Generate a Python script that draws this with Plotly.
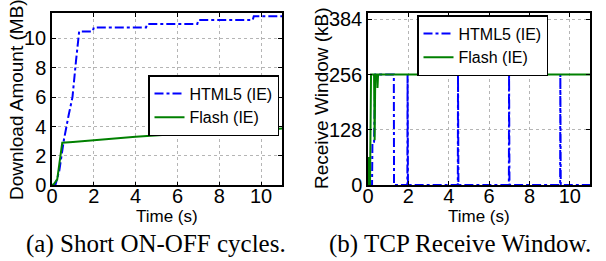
import plotly.graph_objects as go

# ---- data ----
dl_html5_t = [0, 0.16, 0.35, 0.57, 0.8, 0.98, 1.15, 1.25, 1.3, 1.95, 2.0, 4.5, 4.55, 6.95, 7.0, 9.6, 9.65, 11.0]
dl_html5_mb = [0, 0, 1.0, 3.1, 4.8, 6.0, 8.5, 10.0, 10.47, 10.47, 10.74, 10.74, 10.97, 10.97, 11.24, 11.24, 11.5, 11.5]

dl_flash_t = [0, 0.1, 0.25, 0.35, 0.49, 1, 2, 4, 6, 8, 10, 11]
dl_flash_mb = [0, 0.1, 0.4, 1.5, 2.9, 2.95, 3.08, 3.3, 3.49, 3.6, 3.75, 3.87]

rw_html5_t = [0, 0.2, 0.22, 0.3, 0.36, 1.28, 1.29, 1.95, 1.96, 1.98, 4.45, 4.46, 4.48,
              6.98, 6.99, 7.01, 9.52, 9.53, 9.55, 11.0]
rw_html5_kb = [0, 0, 100, 100, 256, 256, 0, 0, 256, 0, 0, 256, 0,
               0, 256, 0, 0, 256, 0, 0]

rw_flash_t = [0, 0.03, 0.05, 0.08, 0.1, 0.12, 0.15, 0.2, 0.3, 0.33, 0.36, 0.45, 0.47, 0.5, 11]
rw_flash_kb = [0, 65, 0, 65, 0, 256, 256, 256, 256, 104, 256, 256, 225, 256, 256]

x_ticks = [0, 2, 4, 6, 8, 10]
y1_ticks = [0, 2, 4, 6, 8, 10]
y2_ticks = [0, 128, 256, 384]

BLUE = "rgb(0,0,255)"
GREEN = "rgb(0,128,0)"
SANS = "Liberation Sans"
SERIF = "Liberation Serif"

fig = go.Figure()
fig.add_trace(go.Scatter(x=dl_html5_t, y=dl_html5_mb, mode="lines", name="HTML5 (IE)",
                         line=dict(color=BLUE, width=2, dash="dashdot"), xaxis="x", yaxis="y", legend="legend"))
fig.add_trace(go.Scatter(x=dl_flash_t, y=dl_flash_mb, mode="lines", name="Flash (IE)",
                         line=dict(color=GREEN, width=2), xaxis="x", yaxis="y", legend="legend"))
fig.add_trace(go.Scatter(x=rw_html5_t, y=rw_html5_kb, mode="lines", name="HTML5 (IE)",
                         line=dict(color=BLUE, width=2, dash="dashdot"), xaxis="x2", yaxis="y2", legend="legend2"))
fig.add_trace(go.Scatter(x=rw_flash_t, y=rw_flash_kb, mode="lines", name="Flash (IE)",
                         line=dict(color=GREEN, width=2), xaxis="x2", yaxis="y2", legend="legend2"))

W, H = 606, 261
def fx(px): return px / W
def fy(py): return 1 - py / H

axis_common = dict(showline=True, linecolor="black", linewidth=1.5, mirror="ticks",
                   ticks="inside", ticklen=4, tickcolor="black", showgrid=True,
                   gridcolor="#b5b5b5", griddash="dot", gridwidth=1, zeroline=False,
                   automargin=False,
                   tickfont=dict(family=SANS, size=20, color="black"))

fig.update_layout(
    width=W, height=H, margin=dict(l=0, r=0, t=0, b=0, pad=0),
    paper_bgcolor="white", plot_bgcolor="white",
    xaxis=dict(domain=[fx(52), fx(282)], range=[0, 11], tickvals=x_ticks, anchor="y",
               ticklabelstandoff=-8, **axis_common),
    yaxis=dict(domain=[fy(185.3), fy(13.3)], range=[0, 11.7], tickvals=y1_ticks, anchor="x", **axis_common),
    xaxis2=dict(domain=[fx(368), fx(590)], range=[0, 11], tickvals=x_ticks, anchor="y2",
                ticklabelstandoff=-8, **axis_common),
    yaxis2=dict(domain=[fy(185), fy(13.3)], range=[0, 398], tickvals=y2_ticks, anchor="x2", **axis_common),
    legend=dict(x=fx(279), xanchor="right", y=fy(75), yanchor="top", bgcolor="white",
                bordercolor="black", borderwidth=1.5, itemwidth=30,
                font=dict(family=SANS, size=16, color="black")),
    legend2=dict(x=fx(417), xanchor="left", y=fy(15), yanchor="top", bgcolor="white",
                 bordercolor="black", borderwidth=1.5, itemwidth=30,
                 font=dict(family=SANS, size=16, color="black")),
    showlegend=True,
)

ann = [
    dict(text="Download Amount (MB)", x=fx(16), y=fy(100), textangle=-90, size=19, fam=SANS),
    dict(text="Receive Window (kB)", x=fx(321), y=fy(98), textangle=-90, size=19, fam=SANS),
    dict(text="Time (s)", x=fx(167), y=fy(216), textangle=0, size=17, fam=SANS),
    dict(text="Time (s)", x=fx(479), y=fy(216), textangle=0, size=17, fam=SANS),
    dict(text="(a) Short ON-OFF cycles.", x=fx(156), y=fy(244), textangle=0, size=25, fam=SERIF),
    dict(text="(b) TCP Receive Window.", x=fx(460), y=fy(244), textangle=0, size=25, fam=SERIF),
]
for a in ann:
    fig.add_annotation(text=a["text"], x=a["x"], y=a["y"], xref="paper", yref="paper",
                       xanchor="center", yanchor="middle", textangle=a["textangle"],
                       showarrow=False, font=dict(family=a["fam"], size=a["size"], color="black"))

fig.write_html("out.html", config={"displayModeBar": False},
               post_script="document.body.style.margin='0px';")
